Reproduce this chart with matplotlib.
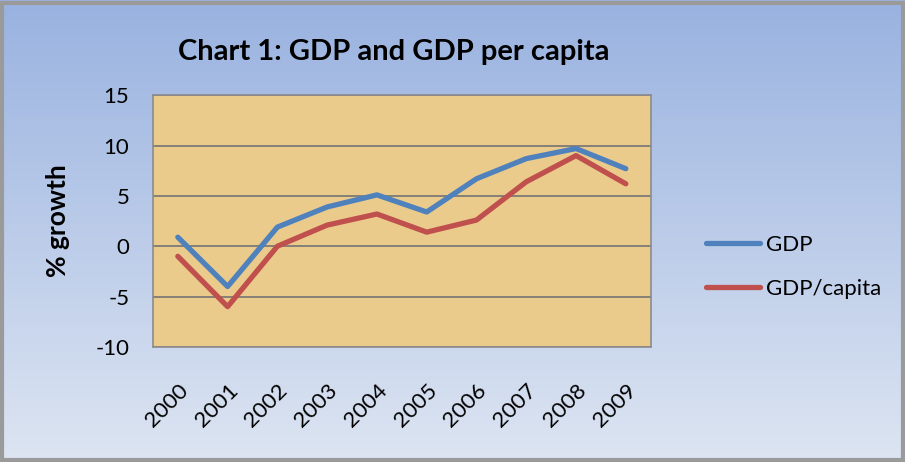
import matplotlib.pyplot as plt
import numpy as np
from matplotlib.colors import LinearSegmentedColormap
from matplotlib.patches import Rectangle

# data
years = ['2000', '2001', '2002', '2003', '2004', '2005', '2006', '2007', '2008', '2009']
gdp = [0.9, -4.0, 1.9, 3.9, 5.1, 3.4, 6.7, 8.7, 9.7, 7.7]
gdp_capita = [-1.0, -6.0, 0.0, 2.1, 3.2, 1.4, 2.6, 6.4, 9.0, 6.2]
y_ticks = [-10, -5, 0, 5, 10, 15]

plt.rcParams['font.family'] = ['Lato', 'DejaVu Sans']


def main():
    fig = plt.figure(figsize=(9.05, 4.62), dpi=100)

    # blue gradient background for the whole chart
    bg = fig.add_axes([0, 0, 1, 1], zorder=-10)
    cmap = LinearSegmentedColormap.from_list('bg', ['#99b2e0', '#dde5f2'])
    grad = np.linspace(0, 1, 256).reshape(-1, 1)
    bg.imshow(grad, aspect='auto', cmap=cmap, extent=[0, 1, 0, 1])
    bg.add_patch(Rectangle((0.002, 0.004), 0.996, 0.99, fill=False,
                           edgecolor='#9a9a9a', linewidth=3,
                           transform=bg.transAxes))
    bg.set_axis_off()

    ax = fig.add_axes([0.169, 0.249, 0.550, 0.545])
    ax.set_facecolor('#ebcb8c')

    x = np.arange(len(years))
    ax.plot(x, gdp, label='GDP', color='#4f81bd', linewidth=3.8,
            solid_capstyle='round', zorder=3)
    ax.plot(x, gdp_capita, label='GDP/capita', color='#c0504d', linewidth=3.8,
            solid_capstyle='round', zorder=3)

    ax.set_xlim(-0.5, len(years) - 0.5)
    ax.set_ylim(-10, 15)
    ax.set_yticks(y_ticks)
    ax.set_yticklabels([str(v) for v in y_ticks], fontsize=16)
    ax.set_xticks(x)
    ax.set_xticklabels(years, fontsize=16, rotation=45, ha='right',
                       rotation_mode='anchor')
    ax.tick_params(axis='both', length=0)
    ax.tick_params(axis='y', pad=17)
    ax.tick_params(axis='x', pad=24)

    ax.grid(axis='y', color='#737373', linewidth=1.2)
    ax.set_axisbelow(True)
    for s in ax.spines.values():
        s.set_color('#8c8c8c')
        s.set_linewidth(1.2)

    ax.set_ylabel('% growth', fontsize=19, fontweight='bold', labelpad=18)

    fig.text(0.435, 0.888, 'Chart 1: GDP and GDP per capita', fontsize=21,
             fontweight='bold', ha='center', va='center')

    ax.legend(loc='upper left', bbox_to_anchor=(1.112, 0.446), frameon=False,
              fontsize=16, handlelength=2.4, handletextpad=0.3,
              labelspacing=1.1, borderpad=0, borderaxespad=0)

    fig.savefig('out.png', dpi=100)


if __name__ == '__main__':
    main()
